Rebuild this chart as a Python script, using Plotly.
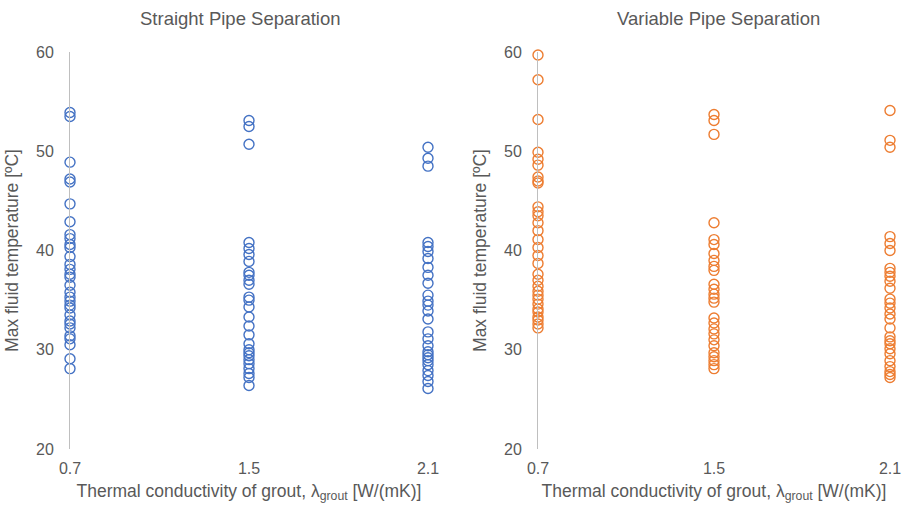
import plotly.graph_objects as go

categories = ["0.7", "1.5", "2.1"]

straight_07 = [53.9, 53.5, 48.9, 47.2, 46.9, 44.7, 42.9, 41.6, 41.2, 40.6, 40.3, 39.4, 38.6, 38.1,
               37.6, 37.3, 36.5, 35.8, 35.3, 34.9, 34.5, 34.2, 33.5, 32.9, 32.6, 32.2, 31.4, 31.1,
               30.5, 29.1, 28.1]
straight_15 = [53.1, 52.5, 50.7, 40.8, 40.2, 39.6, 38.9, 37.8, 37.5, 37.0, 36.6, 35.3, 35.0, 34.3,
               33.3, 32.4, 31.5, 30.6, 30.0, 29.7, 29.4, 29.0, 28.6, 28.1, 27.6, 27.2, 26.4]
straight_21 = [50.4, 49.3, 48.5, 40.8, 40.4, 39.9, 39.2, 38.3, 37.5, 36.7, 35.5, 34.9, 34.5, 33.9,
               33.1, 31.8, 31.1, 30.4, 29.8, 29.5, 29.2, 28.9, 28.5, 27.9, 27.4, 26.8, 26.1]

variable_07 = [59.7, 57.2, 53.2, 49.9, 49.2, 48.6, 47.4, 47.0, 46.8, 44.4, 43.9, 43.5, 42.8, 42.0,
               41.1, 40.3, 39.5, 38.7, 37.6, 37.0, 36.4, 35.9, 35.5, 35.1, 34.6, 34.1, 33.8, 33.3,
               33.0, 32.6, 32.2]
variable_15 = [53.7, 53.1, 51.7, 42.8, 41.1, 40.6, 39.7, 39.0, 38.4, 38.0, 36.6, 36.1, 35.6, 35.2,
               34.8, 33.2, 32.7, 32.1, 31.6, 31.0, 30.4, 29.7, 29.3, 28.9, 28.5, 28.1]
variable_21 = [54.1, 51.1, 50.4, 41.4, 40.7, 40.0, 38.2, 37.8, 37.4, 36.9, 36.2, 35.1, 34.7, 34.2,
               33.6, 33.1, 32.2, 31.3, 30.9, 30.6, 30.1, 29.6, 28.9, 28.3, 27.8, 27.5, 27.2]

y_ticks = [20, 30, 40, 50, 60]

BLUE = "#4472C4"
ORANGE = "#ED7D31"
GRAY = "#595959"
FONT = "Liberation Sans, Arial, sans-serif"

fig = go.Figure()


def add_series(vals_list, color, xa, ya):
    for cat, vals in zip(categories, vals_list):
        fig.add_trace(go.Scatter(
            x=[cat] * len(vals), y=vals, mode="markers",
            marker=dict(symbol="circle-open", size=10, color=color, line=dict(width=1.4, color=color)),
            xaxis=xa, yaxis=ya, showlegend=False, cliponaxis=False,
        ))


add_series([straight_07, straight_15, straight_21], BLUE, "x", "y")
add_series([variable_07, variable_15, variable_21], ORANGE, "x2", "y2")

axis_common_x = dict(
    type="category", categoryorder="array", categoryarray=categories,
    range=[0, 2], showgrid=False, zeroline=False, showline=False,
    ticks="", ticklabelstandoff=8, automargin=False,
    tickfont=dict(size=16, color=GRAY, family=FONT),
    title=dict(text="Thermal conductivity of grout, λ<sub>grout</sub> [W/(mK)]",
               font=dict(size=17.5, color=GRAY, family=FONT), standoff=8),
)
axis_common_y = dict(
    range=[20, 60], tickvals=y_ticks, showgrid=False, zeroline=False,
    showline=True, linecolor="#BFBFBF", linewidth=1, ticks="",
    ticklabelstandoff=12, automargin=False,
    tickfont=dict(size=16, color=GRAY, family=FONT),
    title=dict(text="Max fluid temperature [ºC]", font=dict(size=17.5, color=GRAY, family=FONT), standoff=12),
)

fig.update_layout(
    width=905, height=513,
    margin=dict(l=0, r=0, t=0, b=0),
    paper_bgcolor="white", plot_bgcolor="white",
    font=dict(family=FONT, color=GRAY),
    xaxis=dict(domain=[70 / 905, 428 / 905], anchor="y", **axis_common_x),
    yaxis=dict(domain=[(513 - 449) / 513, (513 - 52) / 513], anchor="x", **axis_common_y),
    xaxis2=dict(domain=[538 / 905, 890 / 905], anchor="y2", **axis_common_x),
    yaxis2=dict(domain=[(513 - 449) / 513, (513 - 52) / 513], anchor="x2", **axis_common_y),
    annotations=[
        dict(text="Straight Pipe Separation", x=240 / 905, y=1 - 18 / 513, xref="paper", yref="paper",
             showarrow=False, font=dict(size=18.5, color=GRAY, family=FONT), xanchor="center", yanchor="middle"),
        dict(text="Variable Pipe Separation", x=718 / 905, y=1 - 18 / 513, xref="paper", yref="paper",
             showarrow=False, font=dict(size=18.5, color=GRAY, family=FONT), xanchor="center", yanchor="middle"),
    ],
)

fig.write_html("out.html")
